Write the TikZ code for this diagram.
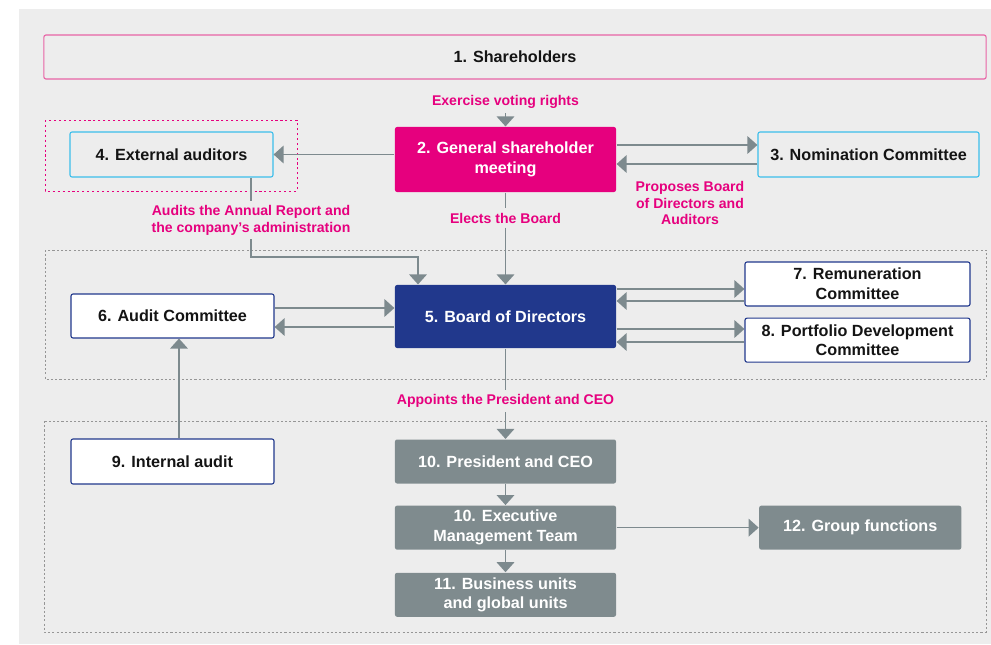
\documentclass[tikz,border=0pt]{standalone}
\usepackage{fontspec}
\setmainfont{Liberation Sans}
\usepackage{tikz}
\usetikzlibrary{
  arrows.meta,
  positioning
}
\definecolor{orgpink}{RGB}{230,0,126}
\definecolor{orgrose}{RGB}{232,100,165}
\definecolor{orgcyan}{RGB}{60,190,235}
\definecolor{orgblue}{RGB}{33,56,140}
\definecolor{orggray}{RGB}{127,139,142}
\definecolor{orgline}{RGB}{125,138,142}
\definecolor{orgbg}{RGB}{237,237,237}
\definecolor{orgdash}{RGB}{150,150,150}
\definecolor{orgtext}{RGB}{20,20,20}
\tikzset{
  orgBox/.style={
    rectangle,
    rounded corners=1.5pt,
    align=center,
    inner sep=2pt,
    line width=0.8pt,
    text=orgtext,
    font=\bfseries\fontsize{11.5}{14}\selectfont
  },
  orgOwner/.style={
    orgBox,
    draw=orgrose,
    minimum width=23.55cm,
    minimum height=1.1cm
  },
  orgMeeting/.style={
    orgBox,
    fill=orgpink,
    text=white,
    minimum width=5.525cm,
    minimum height=1.625cm
  },
  orgElected/.style={
    orgBox,
    draw=orgcyan,
    fill=orgbg,
    minimum height=1.125cm
  },
  orgBoard/.style={
    orgBox,
    fill=orgblue,
    text=white,
    minimum width=5.525cm,
    minimum height=1.575cm
  },
  orgCommittee/.style={
    orgBox,
    draw=orgblue,
    fill=white,
    minimum height=1.1cm
  },
  orgManagement/.style={
    orgBox,
    fill=orggray,
    text=white,
    minimum width=5.525cm,
    minimum height=1.1cm
  },
  orgLabel/.style={
    text=orgpink,
    align=center,
    inner sep=3pt,
    font=\bfseries\fontsize{10}{12}\selectfont
  },
  orgArrow/.style={
    -{Triangle[length=2.5mm,width=4.4mm]},
    line width=1pt,
    draw=orgline
  },
  orgLine/.style={
    line width=1pt,
    draw=orgline
  },
  orgGroup/.style={
    draw=orgdash,
    line width=0.5pt,
    dash pattern=on 1.5pt off 1.5pt
  }
}

\begin{document}
\begin{tikzpicture}[x=0.025cm, y=-0.025cm]
  \useasboundingbox (0,0) rectangle (991,644);
  \fill[orgbg] (19,9) rectangle (991,644);

  % groups
  \draw[orgGroup] (45,250) rectangle (986,379);
  \draw[orgGroup] (44,421) rectangle (986,632);
  \draw[draw=orgpink, line width=0.6pt, dash pattern=on 1.5pt off 2pt]
    (45,120) rectangle (297,191);

  % owners and general meeting
  \node[orgOwner] (owners) at (515,57) {1. Shareholders};
  \node[orgMeeting] (meeting) at (505.5,159.5)
    {2. General shareholder\\meeting};
  \node[orgElected, minimum width=5.075cm] (auditors) at (171.5,154.5)
    {4. External auditors};
  \node[orgElected, minimum width=5.525cm] (nomination) at (868.5,154.5)
    {3. Nomination Committee};

  % board level
  \node[orgBoard] (board) at (505.5,316.5) {5. Board of Directors};
  \node[orgCommittee, minimum width=5.075cm] (auditcom) at (172.5,316)
    {6. Audit Committee};
  \node[orgCommittee, minimum width=5.625cm] (remuneration) at (857.5,284)
    {7. Remuneration\\Committee};
  \node[orgCommittee, minimum width=5.625cm, below=0.275cm of remuneration]
    (portfolio) {8. Portfolio Development\\Committee};

  % management level
  \node[orgManagement] (ceo) at (505.5,461.5) {10. President and CEO};
  \node[orgManagement, below=0.525cm of ceo]
    (executive) {10. Executive\\Management Team};
  \node[orgManagement, below=0.55cm of executive]
    (units) {11. Business units\\and global units};
  \node[orgManagement, minimum width=5.05cm, right=3.55cm of executive]
    (functions) {12. Group functions};
  \node[orgCommittee, minimum width=5.075cm, minimum height=1.125cm]
    (internal) at (172.5,461.5) {9. Internal audit};

  % labels
  \node[orgLabel] (voting) at (505.5,102) {Exercise voting rights};
  \node[orgLabel] (elects) at (505.5,218) {Elects the Board};
  \node[orgLabel] (proposes) at (690,203)
    {Proposes Board\\of Directors and\\Auditors};
  \node[orgLabel] (audits) at (251,220)
    {Audits the Annual Report and\\the company’s administration};
  \node[orgLabel] (appoints) at (505.5,401) {Appoints the President and CEO};
  \coordinate (auditbend) at (418,257);

  % connectors
  \draw[orgArrow] (voting) -- (meeting);
  \draw[orgArrow] (meeting.west |- auditors) -- (auditors);
  \draw[orgArrow] (meeting.east |- 0,145) -- (nomination.west |- 0,145);
  \draw[orgArrow] (nomination.west |- 0,164) -- (meeting.east |- 0,164);
  \draw[orgLine] (meeting) -- (elects);
  \draw[orgArrow] (elects) -- (board);
  \draw[orgLine] (auditors.south -| audits) -- (audits);
  \draw[orgArrow] (audits) |- (auditbend) -- (auditbend |- board.north);
  \draw[orgArrow] (auditcom.east |- 0,308) -- (board.west |- 0,308);
  \draw[orgArrow] (board.west |- 0,327) -- (auditcom.east |- 0,327);
  \draw[orgArrow] (board.east |- 0,289) -- (remuneration.west |- 0,289);
  \draw[orgArrow] (remuneration.west |- 0,301) -- (board.east |- 0,301);
  \draw[orgArrow] (board.east |- 0,329) -- (portfolio.west |- 0,329);
  \draw[orgArrow] (portfolio.west |- 0,342) -- (board.east |- 0,342);
  \draw[orgLine] (board) -- (appoints);
  \draw[orgArrow] (appoints) -- (ceo);
  \draw[orgArrow] (internal.north -| 179,0) -- (auditcom.south -| 179,0);
  \draw[orgArrow] (ceo) -- (executive);
  \draw[orgArrow] (executive) -- (units);
  \draw[orgArrow] (executive) -- (functions);
\end{tikzpicture}
\end{document}
